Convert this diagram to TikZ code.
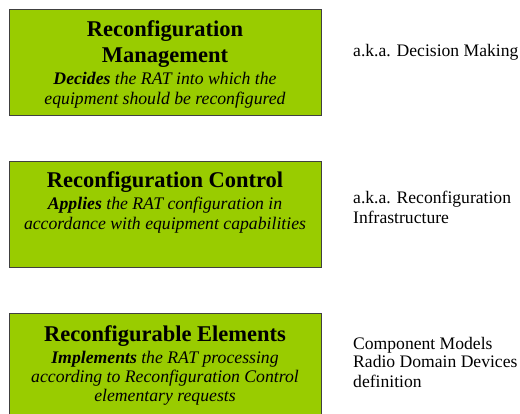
\documentclass[tikz,border=0pt]{standalone}
\usepackage{fontspec}
\setmainfont{Liberation Serif}
\definecolor{boxgreen}{HTML}{99CC00}
\definecolor{boxline}{HTML}{404040}
\tikzset{
  layerbox/.style={draw=boxline, line width=1pt, fill=boxgreen, inner sep=0pt},
  ttl/.style={anchor=base, inner sep=0pt, font=\fontsize{22.5}{26}\selectfont\bfseries},
  dsc/.style={anchor=base, inner sep=0pt, font=\fontsize{17.7}{20}\selectfont\itshape},
  side/.style={anchor=base west, inner sep=0pt, font=\fontsize{17.6}{20}\selectfont},
}
\begin{document}
\begin{tikzpicture}[x=1pt,y=-1pt]
\useasboundingbox[fill=white] (0,0) rectangle (520,414);
% boxes
\path[layerbox] (9,10) rectangle (321,116);
\node[inner sep=0pt] (mgmt) at (165,63) {};
\path[layerbox] (9,162) rectangle (321,268);
\node[inner sep=0pt] (ctrl) at (165,215) {};
\path[layerbox] (9,314) rectangle (321,418);
\node[inner sep=0pt] (elem) at (165,366) {};
% box 1 text
\node[ttl] (m1) at (165,37) {Reconfiguration};
\node[ttl] (m2) at (165,63) {Management};
\node[dsc] (m3) at (165,85) {\textbf{Decides} the RAT into which the};
\node[dsc] (m4) at (165,105) {equipment should be reconfigured};
% box 2 text
\node[ttl] (c1) at (165,188) {Reconfiguration Control};
\node[dsc] (c2) at (165,210) {\textbf{Applies} the RAT configuration in};
\node[dsc] (c3) at (165,230) {accordance with equipment capabilities};
% box 3 text
\node[ttl] (e1) at (165,342) {Reconfigurable Elements};
\node[dsc] (e2) at (165,363) {\textbf{Implements} the RAT processing};
\node[dsc] (e3) at (165,383) {according to Reconfiguration Control};
\node[dsc] (e4) at (165,402) {elementary requests};
% side text
\node[side] (s1) at (353,57) {a.k.a. Decision Making};
\node[side] (s2) at (353,204) {a.k.a. Reconfiguration};
\node[side] (s3) at (353,224) {Infrastructure};
\node[side] (s4) at (353,349) {Component Models};
\node[side] (s5) at (353,368) {Radio Domain Devices};
\node[side] (s6) at (353,388) {definition};
\end{tikzpicture}
\end{document}
